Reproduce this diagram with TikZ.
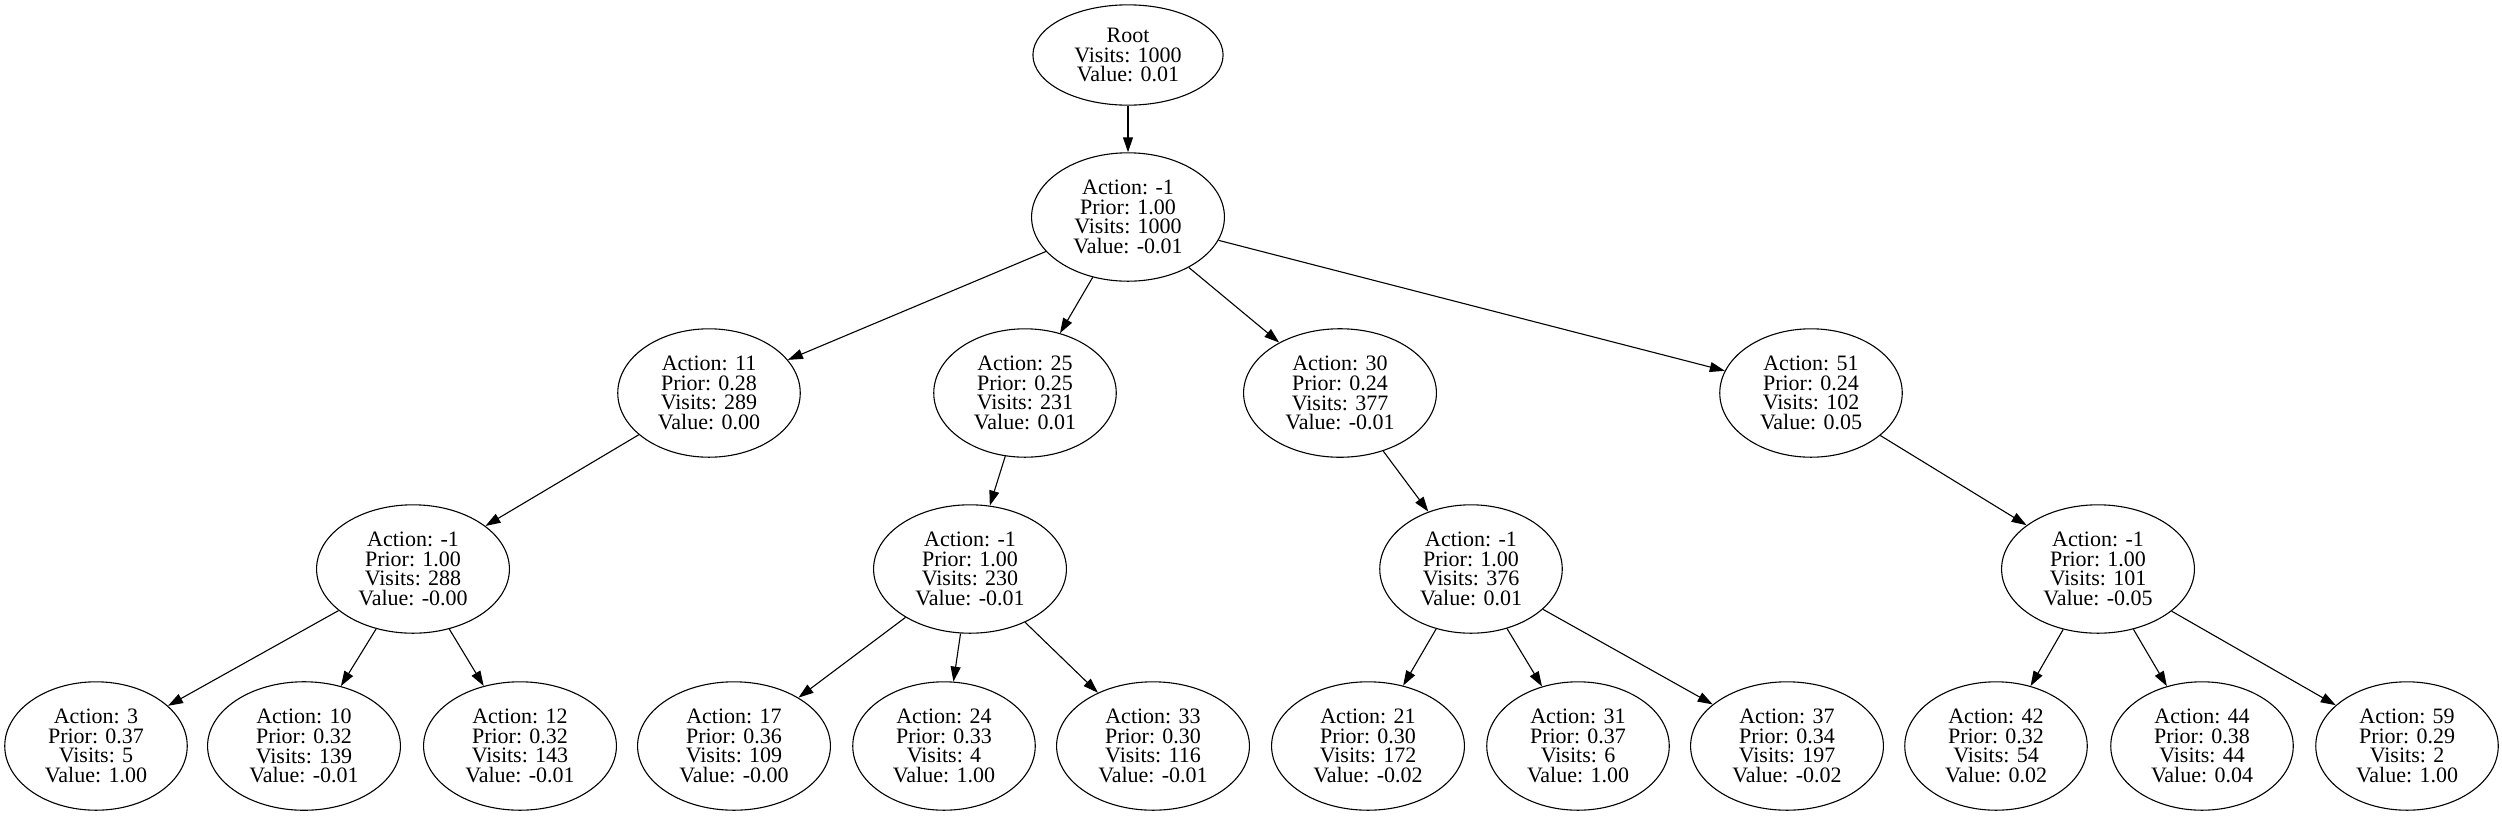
\documentclass[tikz,border=0pt]{standalone}
\usepackage{fontspec}
\setmainfont{Liberation Serif}
\usetikzlibrary{shapes.geometric,arrows.meta}
\begin{document}
\begin{tikzpicture}[x=1pt,y=-1pt,
  tn/.style={draw, ellipse, line width=1.1pt, align=center, inner xsep=13.5pt, inner ysep=8.4pt,
    font=\fontsize{22pt}{19.7pt}\selectfont},
  conn/.style={-{Triangle[length=15pt,width=10pt]}, line width=1.1pt}]
\useasboundingbox (0,0) rectangle (2502,815);
\node[tn] (root) at (1128,55) {Root\\Visits: 1000\\Value: 0.01};
\node[tn] (a) at (1128,217) {Action: -1\\Prior: 1.00\\Visits: 1000\\Value: -0.01};
\node[tn] (b1) at (709,393) {Action: 11\\Prior: 0.28\\Visits: 289\\Value: 0.00};
\node[tn] (b2) at (1025,393) {Action: 25\\Prior: 0.25\\Visits: 231\\Value: 0.01};
\node[tn] (b3) at (1340,393) {Action: 30\\Prior: 0.24\\Visits: 377\\Value: -0.01};
\node[tn] (b4) at (1811,393) {Action: 51\\Prior: 0.24\\Visits: 102\\Value: 0.05};
\node[tn] (c1) at (413,569) {Action: -1\\Prior: 1.00\\Visits: 288\\Value: -0.00};
\node[tn] (c2) at (970,569) {Action: -1\\Prior: 1.00\\Visits: 230\\Value: -0.01};
\node[tn] (c3) at (1471,569) {Action: -1\\Prior: 1.00\\Visits: 376\\Value: 0.01};
\node[tn] (c4) at (2098,569) {Action: -1\\Prior: 1.00\\Visits: 101\\Value: -0.05};
\node[tn] (d1) at (96,746) {Action: 3\\Prior: 0.37\\Visits: 5\\Value: 1.00};
\node[tn] (d2) at (304,746) {Action: 10\\Prior: 0.32\\Visits: 139\\Value: -0.01};
\node[tn] (d3) at (520,746) {Action: 12\\Prior: 0.32\\Visits: 143\\Value: -0.01};
\node[tn] (d4) at (734,746) {Action: 17\\Prior: 0.36\\Visits: 109\\Value: -0.00};
\node[tn] (d5) at (944,746) {Action: 24\\Prior: 0.33\\Visits: 4\\Value: 1.00};
\node[tn] (d6) at (1153,746) {Action: 33\\Prior: 0.30\\Visits: 116\\Value: -0.01};
\node[tn] (d7) at (1368,746) {Action: 21\\Prior: 0.30\\Visits: 172\\Value: -0.02};
\node[tn] (d8) at (1578,746) {Action: 31\\Prior: 0.37\\Visits: 6\\Value: 1.00};
\node[tn] (d9) at (1787,746) {Action: 37\\Prior: 0.34\\Visits: 197\\Value: -0.02};
\node[tn] (d10) at (1996,746) {Action: 42\\Prior: 0.32\\Visits: 54\\Value: 0.02};
\node[tn] (d11) at (2202,746) {Action: 44\\Prior: 0.38\\Visits: 44\\Value: 0.04};
\node[tn] (d12) at (2407,746) {Action: 59\\Prior: 0.29\\Visits: 2\\Value: 1.00};
\draw[conn] (root) -- (a);
\foreach \t in {b1,b2,b3,b4} \draw[conn] (a) -- (\t);
\draw[conn] (b1) -- (c1);
\draw[conn] (b2) -- (c2);
\draw[conn] (b3) -- (c3);
\draw[conn] (b4) -- (c4);
\foreach \t in {d1,d2,d3} \draw[conn] (c1) -- (\t);
\foreach \t in {d4,d5,d6} \draw[conn] (c2) -- (\t);
\foreach \t in {d7,d8,d9} \draw[conn] (c3) -- (\t);
\foreach \t in {d10,d11,d12} \draw[conn] (c4) -- (\t);
\end{tikzpicture}
\end{document}
